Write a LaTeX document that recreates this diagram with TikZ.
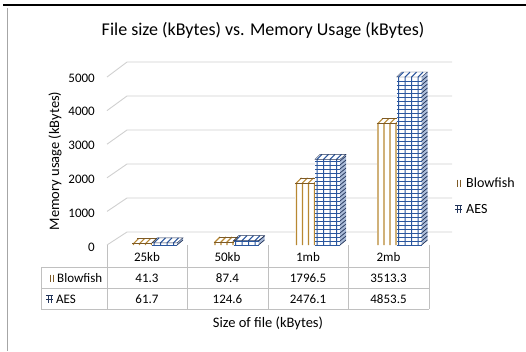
\documentclass[tikz,border=0pt]{standalone}
\usepackage{fontspec}
\setmainfont{Carlito}
\definecolor{gold}{RGB}{184,136,50}
\definecolor{goldtop}{RGB}{125,90,38}
\definecolor{aesblue}{RGB}{42,86,158}
\definecolor{aesdark}{RGB}{34,52,90}
\definecolor{gridgray}{RGB}{208,208,208}
\definecolor{tablegray}{RGB}{192,192,192}

% 3d bars: #1 = left x, #2 = value
\newcommand{\blowbar}[2]{%
  \pgfmathsetmacro\ytop{245-0.0346*#2}
  \fill[white] (#1,245) rectangle (#1+20,\ytop);
  \foreach \k in {0,...,3}
    \draw[gold,line width=1.1pt] (#1+1.5+\k*6,245) -- (#1+1.5+\k*6,\ytop) -- ++(5,-5);
  \draw[goldtop,line width=0.4pt] (#1,\ytop) -- (#1+20,\ytop);
  \draw[goldtop,line width=0.4pt] (#1+5,\ytop-5) -- (#1+25,\ytop-5);
}
\newcommand{\aesbar}[2]{%
  \pgfmathsetmacro\ytop{245-0.0346*#2}
  \pgfmathtruncatemacro\nh{(245-\ytop)/4}
  \fill[white] (#1,245) rectangle (#1+25,\ytop);
  \fill[aesblue!40] (#1+25,245) -- (#1+31,240) -- (#1+31,\ytop-5) -- (#1+25,\ytop) -- cycle;
  \foreach \k in {0,...,\nh}
    \draw[aesdark,line width=0.7pt] (#1+25,245-\k*4) -- ++(6,-5);
  \foreach \k in {0,...,3}
    \draw[aesblue,line width=1pt] (#1+2+\k*6.5,245) -- (#1+2+\k*6.5,\ytop) -- ++(5,-5);
  \foreach \k in {0,...,\nh}
    \draw[aesblue,line width=0.75pt] (#1,245-\k*4) -- (#1+25,245-\k*4);
  \draw[aesdark,line width=0.4pt] (#1,\ytop) -- (#1+25,\ytop) -- ++(6,-5) -- (#1+5,\ytop-5) -- cycle;
}

\begin{document}
\begin{tikzpicture}[x=1pt,y=-1pt,font=\fontsize{13}{15}\selectfont]
  \useasboundingbox (0,0) rectangle (526,351);

  % frame
  \draw[black,line width=1.5pt] (3,5) -- (526,5);
  \draw[gray!70,line width=1pt] (7,8) -- (7,351);

  % title
  \node (title) at (263,30) {\fontsize{18}{20}\selectfont File size (kBytes) vs. Memory Usage (kBytes)};

  % walls and grid
  \foreach \k/\lab in {0/0,1/1000,2/2000,3/3000,4/4000,5/5000} {
    \draw[gridgray,line width=0.9pt] (107,245-\k*33.6) -- (127,232-\k*34) -- (452,232-\k*34);
    \node[anchor=east,inner sep=0pt] (tick\k) at (95,247-\k*33.8) {\lab};
  }
  \node[rotate=90] (ylab) at (55,161) {\fontsize{14.5}{16}\selectfont Memory usage (kBytes)};

  % bars
  \foreach \bv/\av [count=\i from 0] in {41.3/61.7,87.4/124.6,1796.5/2476.1,3513.3/4853.5} {
    \pgfmathsetmacro\xl{132+81.5*\i}
    \blowbar{\xl}{\bv}
    \aesbar{\xl+20}{\av}
  }

  % data table
  \draw[tablegray,line width=0.9pt] (41,267) -- (429,267);
  \draw[tablegray,line width=0.9pt] (41,288) -- (429,288);
  \draw[tablegray,line width=0.9pt] (41,309) -- (429,309);
  \draw[tablegray,line width=0.9pt] (41,267) -- (41,309);
  \foreach \x in {107,187,268,348,429}
    \draw[tablegray,line width=0.9pt] (\x,245) -- (\x,309);

  \foreach \cat/\b/\a [count=\i from 0] in {25kb/41.3/61.7,50kb/87.4/124.6,1mb/1796.5/2476.1,2mb/3513.3/4853.5} {
    \pgfmathsetmacro\xc{147+80.5*\i}
    \node (cat\i) at (\xc,257) {\cat};
    \node (blow\i) at (\xc,278) {\b};
    \node (aes\i) at (\xc,299) {\a};
  }
  \node[anchor=west,inner sep=0pt] (rowblow) at (57,278) {Blowfish};
  \draw[goldtop,line width=0.8pt] (50,274.5) -- (50,281.5) (53,274.5) -- (53,281.5);
  \node[anchor=west,inner sep=0pt] (rowaes) at (56,299) {AES};
  \draw[aesdark,line width=0.7pt] (46,295.5) -- (53,295.5) (48,295.5) -- (48,302.5) (51,295.5) -- (51,302.5) (46,299) -- (53,299);

  \node (xlab) at (268,323) {\fontsize{14.5}{16}\selectfont Size of file (kBytes)};

  % legend
  \node[anchor=west,inner sep=0pt] (legblow) at (466,183) {\fontsize{14}{16}\selectfont Blowfish};
  \draw[goldtop,line width=0.8pt] (457,179.5) -- (457,186.5) (460,179.5) -- (460,186.5);
  \node[anchor=west,inner sep=0pt] (legaes) at (466,209) {\fontsize{14}{16}\selectfont AES};
  \draw[aesdark,line width=0.7pt] (455,205.5) -- (462,205.5) (457,205.5) -- (457,212.5) (460,205.5) -- (460,212.5) (455,209) -- (462,209);
\end{tikzpicture}
\end{document}
